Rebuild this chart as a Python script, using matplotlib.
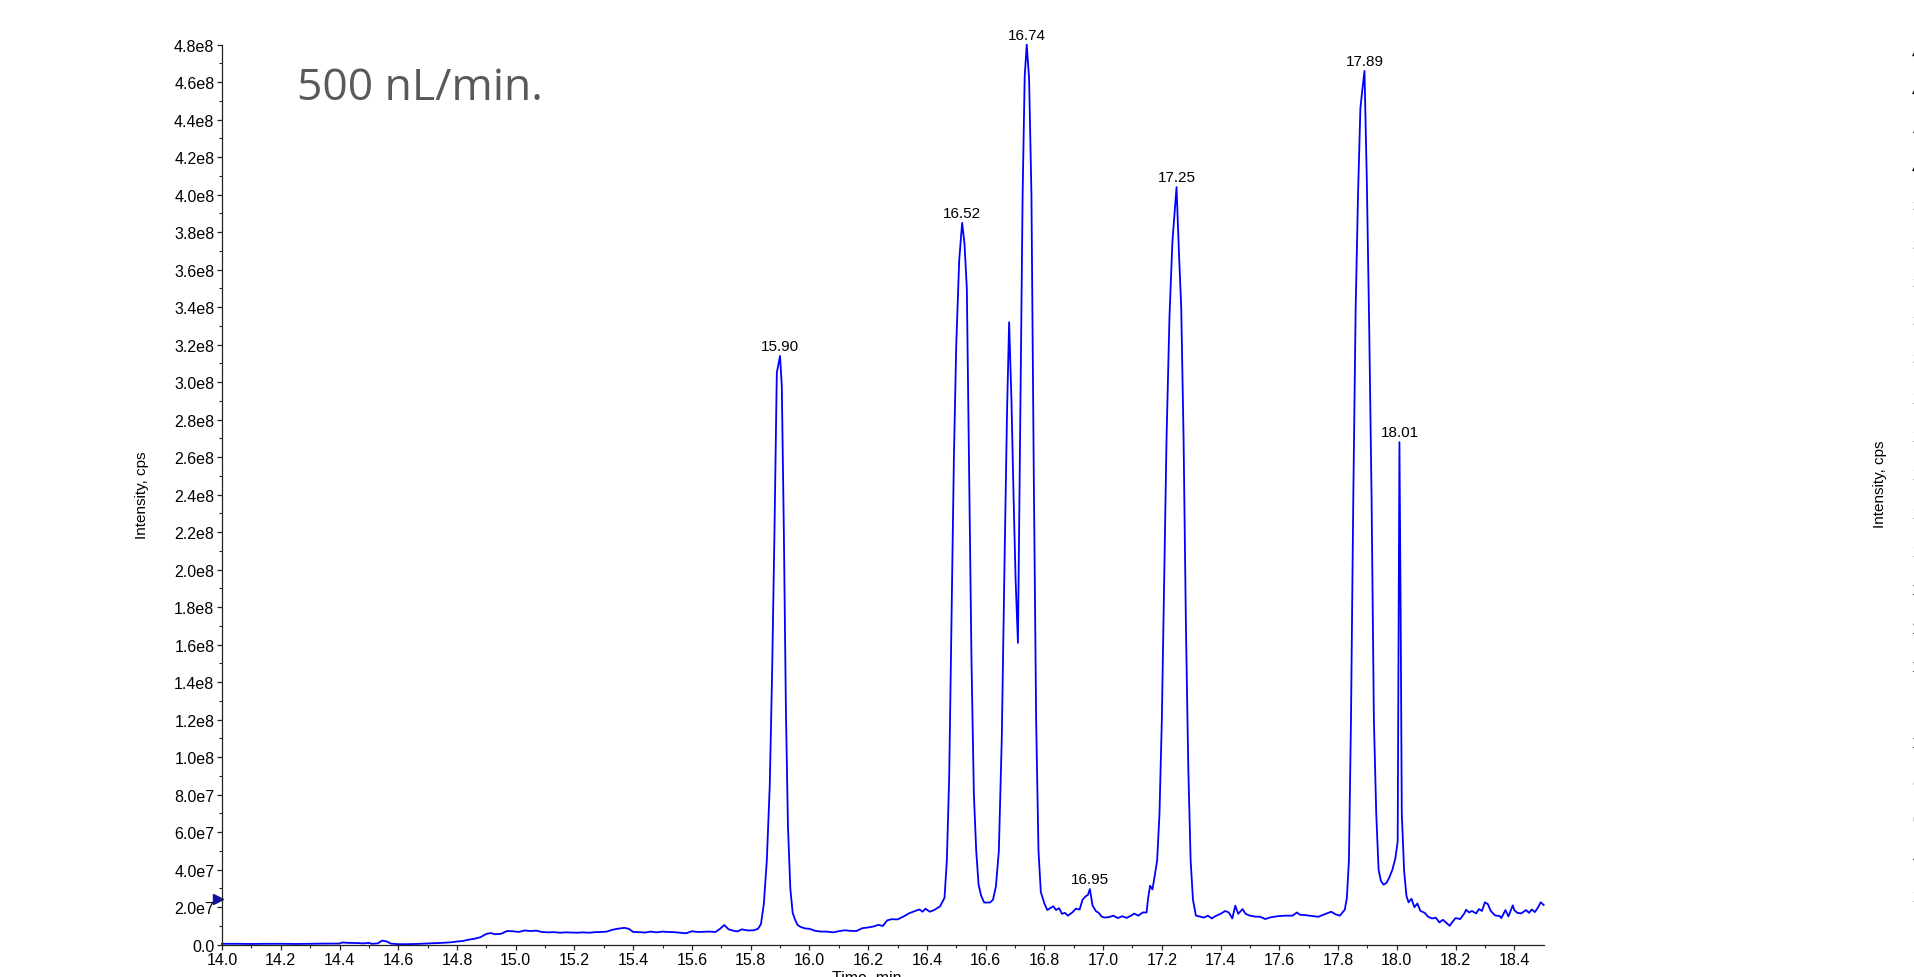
import numpy as np
import matplotlib
matplotlib.use("Agg")
import matplotlib.pyplot as plt
from matplotlib.ticker import FixedLocator, MultipleLocator, FuncFormatter

# chromatogram trace (time in min, intensity in 1e7 cps)
time_min = [
    14.00, 14.05, 14.10, 14.15, 14.20, 14.25, 14.30, 14.35, 14.40, 14.41,
    14.43, 14.46, 14.48, 14.50, 14.51, 14.53, 14.545, 14.56, 14.575, 14.60,
    14.63, 14.66, 14.69, 14.72, 14.75, 14.78, 14.80, 14.82, 14.84, 14.86,
    14.88, 14.90, 14.915, 14.93, 14.95, 14.97, 14.99, 15.01, 15.03, 15.05,
    15.07, 15.09, 15.11, 15.13, 15.15, 15.17, 15.19, 15.21, 15.23, 15.25,
    15.27, 15.29, 15.31, 15.33, 15.35, 15.37, 15.385, 15.40, 15.42, 15.44,
    15.46, 15.48, 15.50, 15.52, 15.54, 15.56, 15.58, 15.60, 15.62, 15.64,
    15.66, 15.68, 15.695, 15.71, 15.725, 15.74, 15.755, 15.77, 15.79, 15.81,
    15.825, 15.835, 15.845, 15.855, 15.865, 15.873, 15.881, 15.889, 15.90, 15.906,
    15.913, 15.920, 15.927, 15.935, 15.943, 15.952, 15.960, 15.970, 15.985, 16.00,
    16.02, 16.04, 16.06, 16.08, 16.10, 16.12, 16.14, 16.16, 16.18, 16.20,
    16.22, 16.235, 16.25, 16.265, 16.28, 16.30, 16.32, 16.34, 16.36, 16.375,
    16.385, 16.395, 16.41, 16.425, 16.445, 16.460, 16.468, 16.476, 16.484, 16.492,
    16.500, 16.510, 16.520, 16.528, 16.536, 16.544, 16.552, 16.560, 16.568, 16.576,
    16.585, 16.595, 16.605, 16.615, 16.625, 16.635, 16.645, 16.655, 16.665, 16.673,
    16.680, 16.688, 16.695, 16.702, 16.710, 16.718, 16.726, 16.733, 16.740, 16.748,
    16.756, 16.764, 16.772, 16.780, 16.788, 16.800, 16.81, 16.82, 16.83, 16.84,
    16.85, 16.86, 16.87, 16.88, 16.895, 16.907, 16.92, 16.93, 16.94, 16.948,
    16.955, 16.964, 16.975, 16.985, 16.995, 17.005, 17.02, 17.035, 17.05, 17.065,
    17.08, 17.095, 17.106, 17.12, 17.135, 17.148, 17.153, 17.160, 17.168, 17.176,
    17.184, 17.192, 17.200, 17.208, 17.216, 17.226, 17.236, 17.250, 17.258, 17.266,
    17.274, 17.282, 17.290, 17.298, 17.306, 17.316, 17.33, 17.343, 17.357, 17.37,
    17.382, 17.40, 17.416, 17.428, 17.44, 17.45, 17.46, 17.475, 17.485, 17.50,
    17.518, 17.535, 17.552, 17.57, 17.594, 17.62, 17.645, 17.66, 17.67, 17.687,
    17.713, 17.733, 17.755, 17.777, 17.79, 17.806, 17.823, 17.830, 17.837, 17.844,
    17.852, 17.860, 17.868, 17.876, 17.882, 17.890, 17.898, 17.906, 17.914, 17.922,
    17.930, 17.938, 17.946, 17.955, 17.965, 17.975, 17.985, 17.995, 18.003, 18.009,
    18.013, 18.017, 18.025, 18.033, 18.04, 18.05, 18.06, 18.07, 18.08, 18.095,
    18.106, 18.12, 18.133, 18.145, 18.157, 18.167, 18.18, 18.19, 18.20, 18.216,
    18.23, 18.236, 18.246, 18.256, 18.27, 18.28, 18.29, 18.30, 18.31, 18.32,
    18.335, 18.35, 18.356, 18.37, 18.38, 18.395, 18.40, 18.41, 18.424, 18.44,
    18.45, 18.46, 18.47, 18.48, 18.49, 18.50,
]
intensity_e7 = [
    0.05, 0.05, 0.04, 0.05, 0.05, 0.04, 0.05, 0.06, 0.06, 0.12,
    0.10, 0.09, 0.07, 0.10, 0.05, 0.07, 0.22, 0.18, 0.06, 0.03,
    0.03, 0.04, 0.06, 0.08, 0.10, 0.13, 0.17, 0.20, 0.27, 0.32,
    0.40, 0.58, 0.62, 0.56, 0.58, 0.73, 0.72, 0.68, 0.76, 0.73,
    0.75, 0.68, 0.66, 0.67, 0.64, 0.66, 0.65, 0.64, 0.66, 0.64,
    0.67, 0.68, 0.70, 0.80, 0.86, 0.90, 0.85, 0.68, 0.67, 0.65,
    0.70, 0.66, 0.70, 0.68, 0.67, 0.64, 0.61, 0.72, 0.68, 0.69,
    0.70, 0.68, 0.84, 1.05, 0.82, 0.75, 0.71, 0.82, 0.76, 0.77,
    0.85, 1.10, 2.2, 4.5, 8.5, 14.5, 22.0, 30.5, 31.4, 29.8,
    22.0, 12.5, 6.3, 3.0, 1.7, 1.3, 1.05, 0.95, 0.87, 0.85,
    0.74, 0.70, 0.70, 0.66, 0.72, 0.77, 0.74, 0.73, 0.88, 0.92,
    0.98, 1.06, 1.00, 1.30, 1.36, 1.35, 1.50, 1.68, 1.80, 1.88,
    1.76, 1.92, 1.76, 1.85, 2.05, 2.5, 4.5, 9.0, 17.5, 26.0,
    32.0, 36.5, 38.5, 37.4, 35.0, 25.0, 15.0, 8.0, 5.0, 3.2,
    2.6, 2.25, 2.25, 2.25, 2.4, 3.1, 5.0, 11.0, 21.0, 28.5,
    33.2, 29.0, 24.0, 19.5, 16.1, 28.0, 40.0, 46.3, 48.0, 46.2,
    40.0, 25.0, 12.0, 5.0, 2.8, 2.2, 1.85, 1.95, 2.05, 1.85,
    1.95, 1.65, 1.70, 1.55, 1.72, 1.92, 1.88, 2.40, 2.58, 2.65,
    2.97, 2.1, 1.80, 1.70, 1.50, 1.45, 1.47, 1.55, 1.42, 1.52,
    1.43, 1.55, 1.66, 1.55, 1.72, 1.72, 2.45, 3.15, 2.95, 3.7,
    4.5, 7.0, 12.0, 19.5, 27.0, 33.5, 37.5, 40.4, 37.0, 34.0,
    27.0, 17.0, 9.5, 4.5, 2.4, 1.55, 1.50, 1.45, 1.55, 1.40,
    1.52, 1.65, 1.80, 1.72, 1.40, 2.08, 1.65, 1.90, 1.65, 1.55,
    1.50, 1.49, 1.37, 1.46, 1.52, 1.55, 1.55, 1.72, 1.60, 1.58,
    1.53, 1.49, 1.63, 1.76, 1.63, 1.55, 1.87, 2.5, 4.5, 12.0,
    24.0, 34.0, 40.0, 44.6, 45.5, 46.6, 40.7, 33.0, 24.0, 12.0,
    7.0, 4.0, 3.4, 3.2, 3.3, 3.6, 4.0, 4.6, 5.5, 26.8,
    18.0, 7.0, 3.9, 2.6, 2.26, 2.45, 2.0, 2.2, 1.81, 1.70,
    1.50, 1.40, 1.44, 1.19, 1.33, 1.19, 1.01, 1.23, 1.42, 1.37,
    1.67, 1.87, 1.72, 1.80, 1.67, 1.90, 1.80, 2.26, 2.17, 1.80,
    1.56, 1.53, 1.42, 1.85, 1.51, 2.10, 1.85, 1.70, 1.67, 1.85,
    1.70, 1.88, 1.74, 1.97, 2.26, 2.12,
]

peak_times = [15.90, 16.52, 16.74, 16.955, 17.25, 17.89, 18.009]
peak_labels = ["15.90", "16.52", "16.74", "16.95", "17.25", "17.89", "18.01"]

t = np.array(time_min)
y = np.array(intensity_e7) * 1e7

plt.rcParams['font.family'] = ['Liberation Sans', 'DejaVu Sans']

fig = plt.figure(figsize=(19.14, 9.78), dpi=100)
ax = fig.add_axes([0.116, 0.0330, 0.6905, 0.9203])

ax.plot(t, y, color='#0000ff', lw=1.3, clip_on=False)

ax.set_xlim(14.0, 18.5)
ax.set_ylim(0, 4.8e8)


def sci_fmt(v, pos):
    if v < 1:
        return '0.0' if abs(v) < 1 else ''
    e = int(np.floor(np.log10(v) + 1e-9))
    return '%.1fe%d' % (v / 10 ** e, e)


ax.xaxis.set_major_locator(FixedLocator(np.round(np.arange(14.0, 18.41, 0.2), 1)))
ax.xaxis.set_minor_locator(FixedLocator(np.round(np.arange(14.1, 18.35, 0.2), 1)))
ax.xaxis.set_major_formatter(FuncFormatter(lambda v, p: '%.1f' % v))
ax.yaxis.set_major_locator(MultipleLocator(2e7))
ax.yaxis.set_minor_locator(MultipleLocator(1e7))
ax.yaxis.set_major_formatter(FuncFormatter(sci_fmt))

for s in ['top', 'right']:
    ax.spines[s].set_visible(False)
for s in ['left', 'bottom']:
    ax.spines[s].set_linewidth(0.9)
    ax.spines[s].set_color('#222222')
ax.tick_params(which='major', length=3.5, width=0.9, labelsize=11.5, pad=2, color='#222222')
ax.tick_params(which='minor', length=2.2, width=0.8, color='#222222')

ax.set_ylabel('Intensity, cps', fontsize=11)
ax.yaxis.set_label_coords(-0.055, 0.5)
ax.set_xlabel('Time, min', fontsize=11.5)
ax.xaxis.set_label_coords(0.488, -0.0276)

# peak apex labels
for pt, lab in zip(peak_times, peak_labels):
    win = np.abs(t - pt) < 0.012
    i = np.argmax(np.where(win, y, -1))
    ax.annotate(lab, (t[i], y[i]), xytext=(0, 2), textcoords='offset points',
                ha='center', va='bottom', fontsize=11, annotation_clip=False)

# threshold marker on the y axis
ax.plot([13.987], [2.44e7], marker='>', ms=7, color='#1010a0', clip_on=False)

fig.text(0.1552, 0.8978, '500 nL/min.', fontsize=32, color='#595959',
         family=['Open Sans', 'DejaVu Sans'], va='baseline', ha='left')

# neighbouring panel, mostly outside the picture
ax2 = fig.add_axes([1960 / 1914, 0.045, 0.69, 0.9203])
ax2.set_ylim(0, 4.7e8)
ax2.yaxis.set_major_locator(MultipleLocator(2e7))
ax2.yaxis.set_major_formatter(FuncFormatter(sci_fmt))
ax2.tick_params(labelsize=11.5, pad=2)
ax2.set_ylabel('Intensity, cps', fontsize=11)
ax2.yaxis.set_label_coords(-0.055, 0.5)
ax2.set_xticks([])

fig.savefig('out.png', dpi=100)
